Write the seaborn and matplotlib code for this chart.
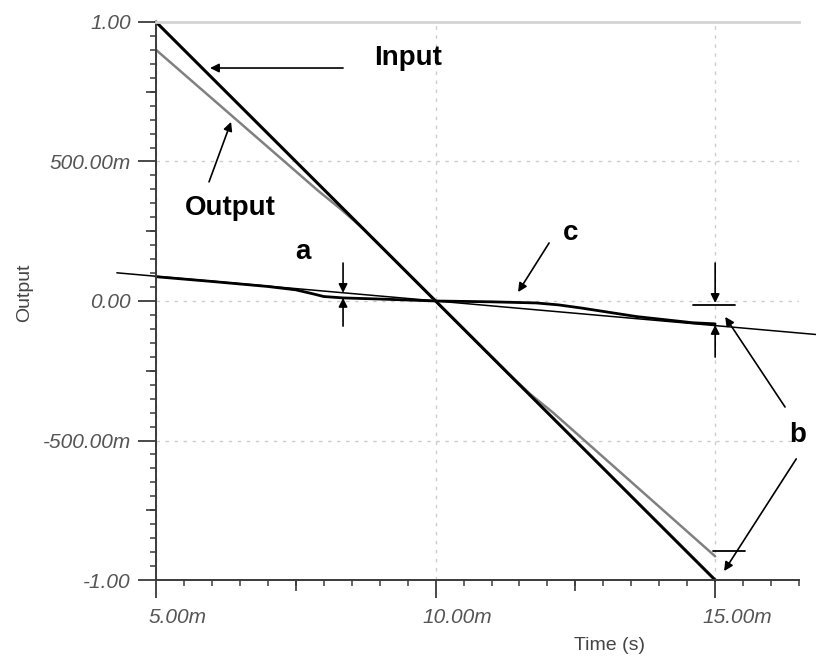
import matplotlib
matplotlib.use("Agg")
import matplotlib.pyplot as plt
import matplotlib.transforms as mtransforms
from matplotlib.ticker import FixedLocator, MultipleLocator
import seaborn as sns

# ── Data (time in ms) ─────────────────────────────────────────
input_time = [5.0, 15.0]
input_vals = [1.0, -1.0]

output_time = [5.0, 7.9, 8.3, 8.7, 10.0, 11.3, 11.7, 12.1, 15.0]
output_vals = [0.90, 0.395, 0.33, 0.26, 0.0, -0.26, -0.335, -0.40, -0.915]

# curve "c" (error) and the straight reference line it is compared to
error_time = [5.0, 6.0, 7.0, 7.5, 7.8, 8.0, 8.35, 9.0, 10.0, 11.0, 11.8, 12.2, 12.6, 13.6, 14.6, 15.0]
error_vals = [0.087, 0.070, 0.052, 0.040, 0.026, 0.016, 0.011, 0.007, 0.0,
              -0.003, -0.007, -0.014, -0.025, -0.056, -0.078, -0.082]

ref_time = [4.3, 16.8]
ref_vals = [0.101, -0.120]

x_ticks = [5.0, 10.0, 15.0]
x_tick_labels = ["5.00m", "10.00m", "15.00m"]
y_ticks = [-1.0, -0.5, 0.0, 0.5, 1.0]
y_tick_labels = ["-1.00", "-500.00m", "0.00", "500.00m", "1.00"]

# ── Annotations ───────────────────────────────────────────────
notes = [("Input", 9.51, 0.871), ("Output", 6.32, 0.333), ("a", 7.63, 0.176),
         ("c", 12.41, 0.244), ("b", 16.47, -0.48)]
# (tail, head)
arrows = [((8.345, 0.835), (5.966, 0.835)),
          ((5.948, 0.427), (6.342, 0.642)),
          ((8.345, 0.136), (8.345, 0.029)),
          ((8.345, -0.090), (8.345, 0.011)),
          ((12.03, 0.208), (11.476, 0.032)),
          ((15.0, 0.136), (15.0, -0.007)),
          ((15.0, -0.201), (15.0, -0.086)),
          ((16.25, -0.38), (15.18, -0.057)),
          ((16.45, -0.566), (15.16, -0.968))]
bars = [(14.61, 15.36, -0.014), (14.96, 15.54, -0.896)]

# ── Style ─────────────────────────────────────────────────────
sns.set_theme(style="white")
plt.rcParams['font.family'] = ['Liberation Sans', 'DejaVu Sans']

fig = plt.figure(figsize=(8.16, 6.6), dpi=100)
ax = fig.add_axes([0.1912, 0.1212, 0.788, 0.8455])

sns.lineplot(x=ref_time, y=ref_vals, ax=ax, color="black", lw=1.1, sort=False)
sns.lineplot(x=error_time, y=error_vals, ax=ax, color="black", lw=2.0, sort=False)
sns.lineplot(x=output_time, y=output_vals, ax=ax, color="#808080", lw=1.8, sort=False)
sns.lineplot(x=input_time, y=input_vals, ax=ax, color="black", lw=2.2, sort=False)
for ln in ax.lines:
    ln.set_clip_on(False)

ax.set_xlim(5.0, 16.5)
ax.set_ylim(-1.0, 1.0)

# grid
ax.grid(True, color="#cccccc", linestyle=(0, (2.5, 4)), lw=1.0)
ax.set_axisbelow(True)

# spines
ax.spines["right"].set_visible(False)
ax.spines["top"].set_color("#d4d4d4")
ax.spines["top"].set_linewidth(2.0)
for side in ["left", "bottom"]:
    ax.spines[side].set_color("#3a3a3a")
    ax.spines[side].set_linewidth(1.4)

# ticks
ax.xaxis.set_major_locator(FixedLocator(x_ticks))
ax.xaxis.set_minor_locator(MultipleLocator(0.5))
ax.yaxis.set_major_locator(FixedLocator(y_ticks))
ax.yaxis.set_minor_locator(MultipleLocator(0.05))
ax.set_xticklabels(x_tick_labels)
ax.set_yticklabels(y_tick_labels)
ax.tick_params(which="major", direction="out", length=13, width=1.3, color="#3a3a3a",
               labelsize=15, labelcolor="#555555")
ax.tick_params(axis="x", which="major", pad=7)
ax.tick_params(axis="y", which="major", pad=5)
ax.tick_params(which="minor", direction="out", length=4, width=1.1, color="#3a3a3a")
ax.tick_params(bottom=True, left=True, which="both")
for lab in ax.get_xticklabels() + ax.get_yticklabels():
    lab.set_fontstyle("italic")
offset = mtransforms.ScaledTranslation(0.22, 0, fig.dpi_scale_trans)
for lab in ax.get_xticklabels():
    lab.set_transform(lab.get_transform() + offset)

# medium ticks at the half-decades
secx = ax.secondary_xaxis("bottom")
secx.set_xticks([7.5, 12.5])
secx.set_xticklabels([])
secx.tick_params(length=8, width=1.2, color="#3a3a3a")
secx.spines["bottom"].set_visible(False)
secy = ax.secondary_yaxis("left")
secy.set_yticks([-0.75, -0.25, 0.25, 0.75])
secy.set_yticklabels([])
secy.tick_params(length=7, width=1.2, color="#3a3a3a")
secy.spines["left"].set_visible(False)

ax.set_xlabel("Time (s)", fontsize=14, color="#444444")
ax.set_ylabel("Output", fontsize=14, color="#444444")
ax.xaxis.set_label_coords(0.7045, -0.102)
ax.yaxis.set_label_coords(-0.191, 0.514)

# annotations
for txt, tx, ty in notes:
    ax.text(tx, ty, txt, fontsize=20, fontweight="bold", color="black",
            ha="center", va="center")
for tail, head in arrows:
    ax.annotate("", xy=head, xytext=tail, annotation_clip=False,
                arrowprops=dict(arrowstyle="-|>", color="black", lw=1.2,
                                mutation_scale=13, shrinkA=0, shrinkB=0))
for x0, x1, yb in bars:
    ax.plot([x0, x1], [yb, yb], color="black", lw=1.3, clip_on=False)

plt.savefig("out.png", dpi=100)
